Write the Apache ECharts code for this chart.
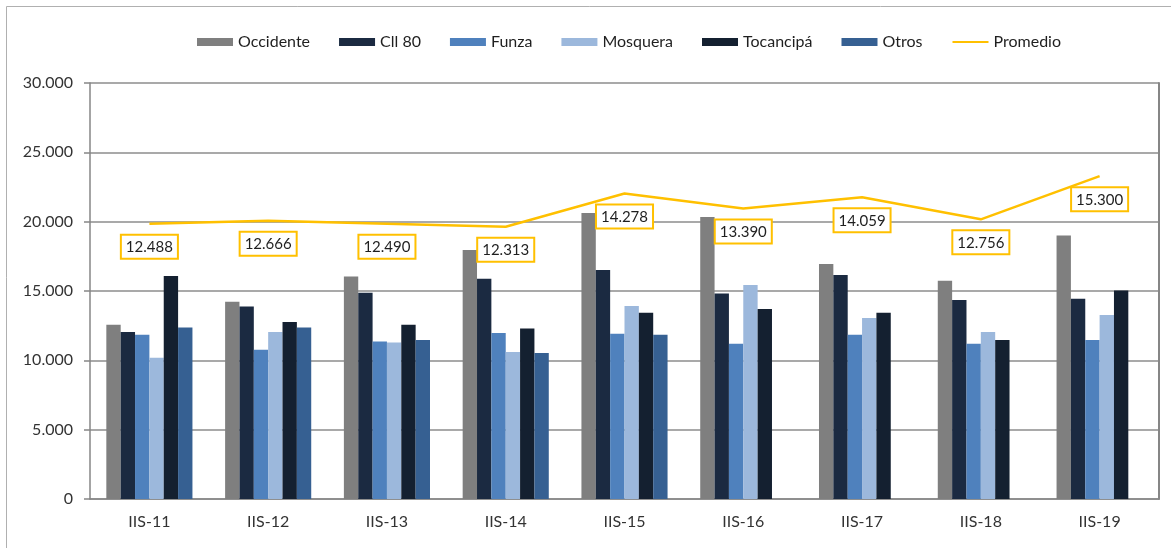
<!DOCTYPE html>
<html>
<head>
<meta charset="utf-8">
<script src="https://cdn.jsdelivr.net/npm/echarts@6/dist/echarts.min.js"></script>
<style>
  html, body { margin: 0; padding: 0; background: #ffffff; }
  #chart { width: 1171px; height: 548px; }
</style>
</head>
<body>
<div id="chart"></div>
<script>
// Semesters on the category axis
const categories = ['IIS-11', 'IIS-12', 'IIS-13', 'IIS-14', 'IIS-15', 'IIS-16', 'IIS-17', 'IIS-18', 'IIS-19'];

// Values per location
const occidente = [12570, 14220, 16050, 17950, 20620, 20330, 16940, 15740, 19000];
const cll80     = [12040, 13890, 14870, 15880, 16510, 14820, 16150, 14350, 14440];
const funza     = [11850, 10760, 11360, 11970, 11920, 11200, 11850, 11200, 11460];
const mosquera  = [10190, 12040, 11290, 10600, 13910, 15430, 13050, 12040, 13270];
const tocancipa = [16080, 12760, 12570, 12300, 13430, 13700, 13430, 11460, 15040];
const otros     = [12370, 12370, 11460, 10530, 11850, null, null, null, null];

// Average, drawn on its own (hidden) right-hand scale
const promedio  = [12488, 12666, 12490, 12313, 14278, 13390, 14059, 12756, 15300];

// Left axis ticks
const yTicks = [0, 5000, 10000, 15000, 20000, 25000, 30000];

const FONT = 'Lato, "Liberation Sans", Arial, sans-serif';
const fmt = v => String(v).replace(/\B(?=(\d{3})+(?!\d))/g, '.');

const barSeries = (name, data, color) => ({
  name, type: 'bar', data, yAxisIndex: 0,
  itemStyle: { color },
  barGap: '0%', barCategoryGap: '27.5%',
  emphasis: { disabled: true }
});

const chart = echarts.init(document.getElementById('chart'), null, { renderer: 'canvas' });
chart.setOption({
  animation: false,
  backgroundColor: '#ffffff',
  textStyle: { fontFamily: FONT },
  graphic: [{
    type: 'rect', silent: true, z: -10,
    shape: { x: 6.5, y: 6.5, width: 1300, height: 700 },
    style: { fill: 'none', stroke: '#b0b0b0', lineWidth: 1 }
  }],
  legend: {
    left: 192, top: 29,
    itemWidth: 36, itemHeight: 8, itemGap: 29,
    textStyle: { fontFamily: FONT, fontSize: 16, color: '#1f1f1f' },
    data: [
      { name: 'Occidente', icon: 'rect' },
      { name: 'Cll 80', icon: 'rect' },
      { name: 'Funza', icon: 'rect' },
      { name: 'Mosquera', icon: 'rect' },
      { name: 'Tocancipá', icon: 'rect' },
      { name: 'Otros', icon: 'rect' },
      { name: 'Promedio' }
    ]
  },
  grid: { left: 90, right: 12, top: 83, bottom: 49, containLabel: false },
  xAxis: {
    type: 'category', data: categories,
    axisLine: { lineStyle: { color: '#868686', width: 1.5 } },
    axisTick: { show: false },
    axisLabel: { fontFamily: FONT, fontSize: 16, color: '#333333', margin: 15 },
    splitLine: { show: false }
  },
  yAxis: [{
    type: 'value', min: yTicks[0], max: yTicks[yTicks.length - 1], interval: 5000,
    axisLine: { show: true, lineStyle: { color: '#868686', width: 1.5 } },
    axisTick: { show: true, length: 6, lineStyle: { color: '#868686', width: 1.5 } },
    axisLabel: { fontFamily: FONT, fontSize: 16, color: '#333333', margin: 17, formatter: fmt },
    splitLine: { show: true, lineStyle: { color: '#8c8c8c', width: 1.5 } }
  }, {
    type: 'value', position: 'right', min: -3750, max: 20800,
    axisLine: { show: true, lineStyle: { color: '#868686', width: 2 } },
    axisTick: { show: false },
    axisLabel: { show: false },
    splitLine: { show: false }
  }],
  series: [
    barSeries('Occidente', occidente, '#7f7f7f'),
    barSeries('Cll 80', cll80, '#1b2a41'),
    barSeries('Funza', funza, '#4f81bd'),
    barSeries('Mosquera', mosquera, '#9cb8dc'),
    barSeries('Tocancipá', tocancipa, '#142030'),
    barSeries('Otros', otros, '#366092'),
    {
      name: 'Promedio', type: 'line', data: promedio, yAxisIndex: 1,
      symbol: 'circle', symbolSize: 4, showSymbol: true, z: 5,
      lineStyle: { color: '#ffc000', width: 2.5 },
      itemStyle: { color: 'rgba(0,0,0,0)', borderWidth: 0 },
      emphasis: { disabled: true },
      label: {
        show: true, position: 'bottom', distance: 10,
        formatter: p => fmt(p.value),
        fontFamily: FONT, fontSize: 15, color: '#1f1f1f',
        backgroundColor: '#ffffff',
        borderColor: '#ffc000', borderWidth: 2,
        padding: [4, 4, 3, 4]
      },
      labelLayout: { hideOverlap: false }
    }
  ]
});
</script>
</body>
</html>
